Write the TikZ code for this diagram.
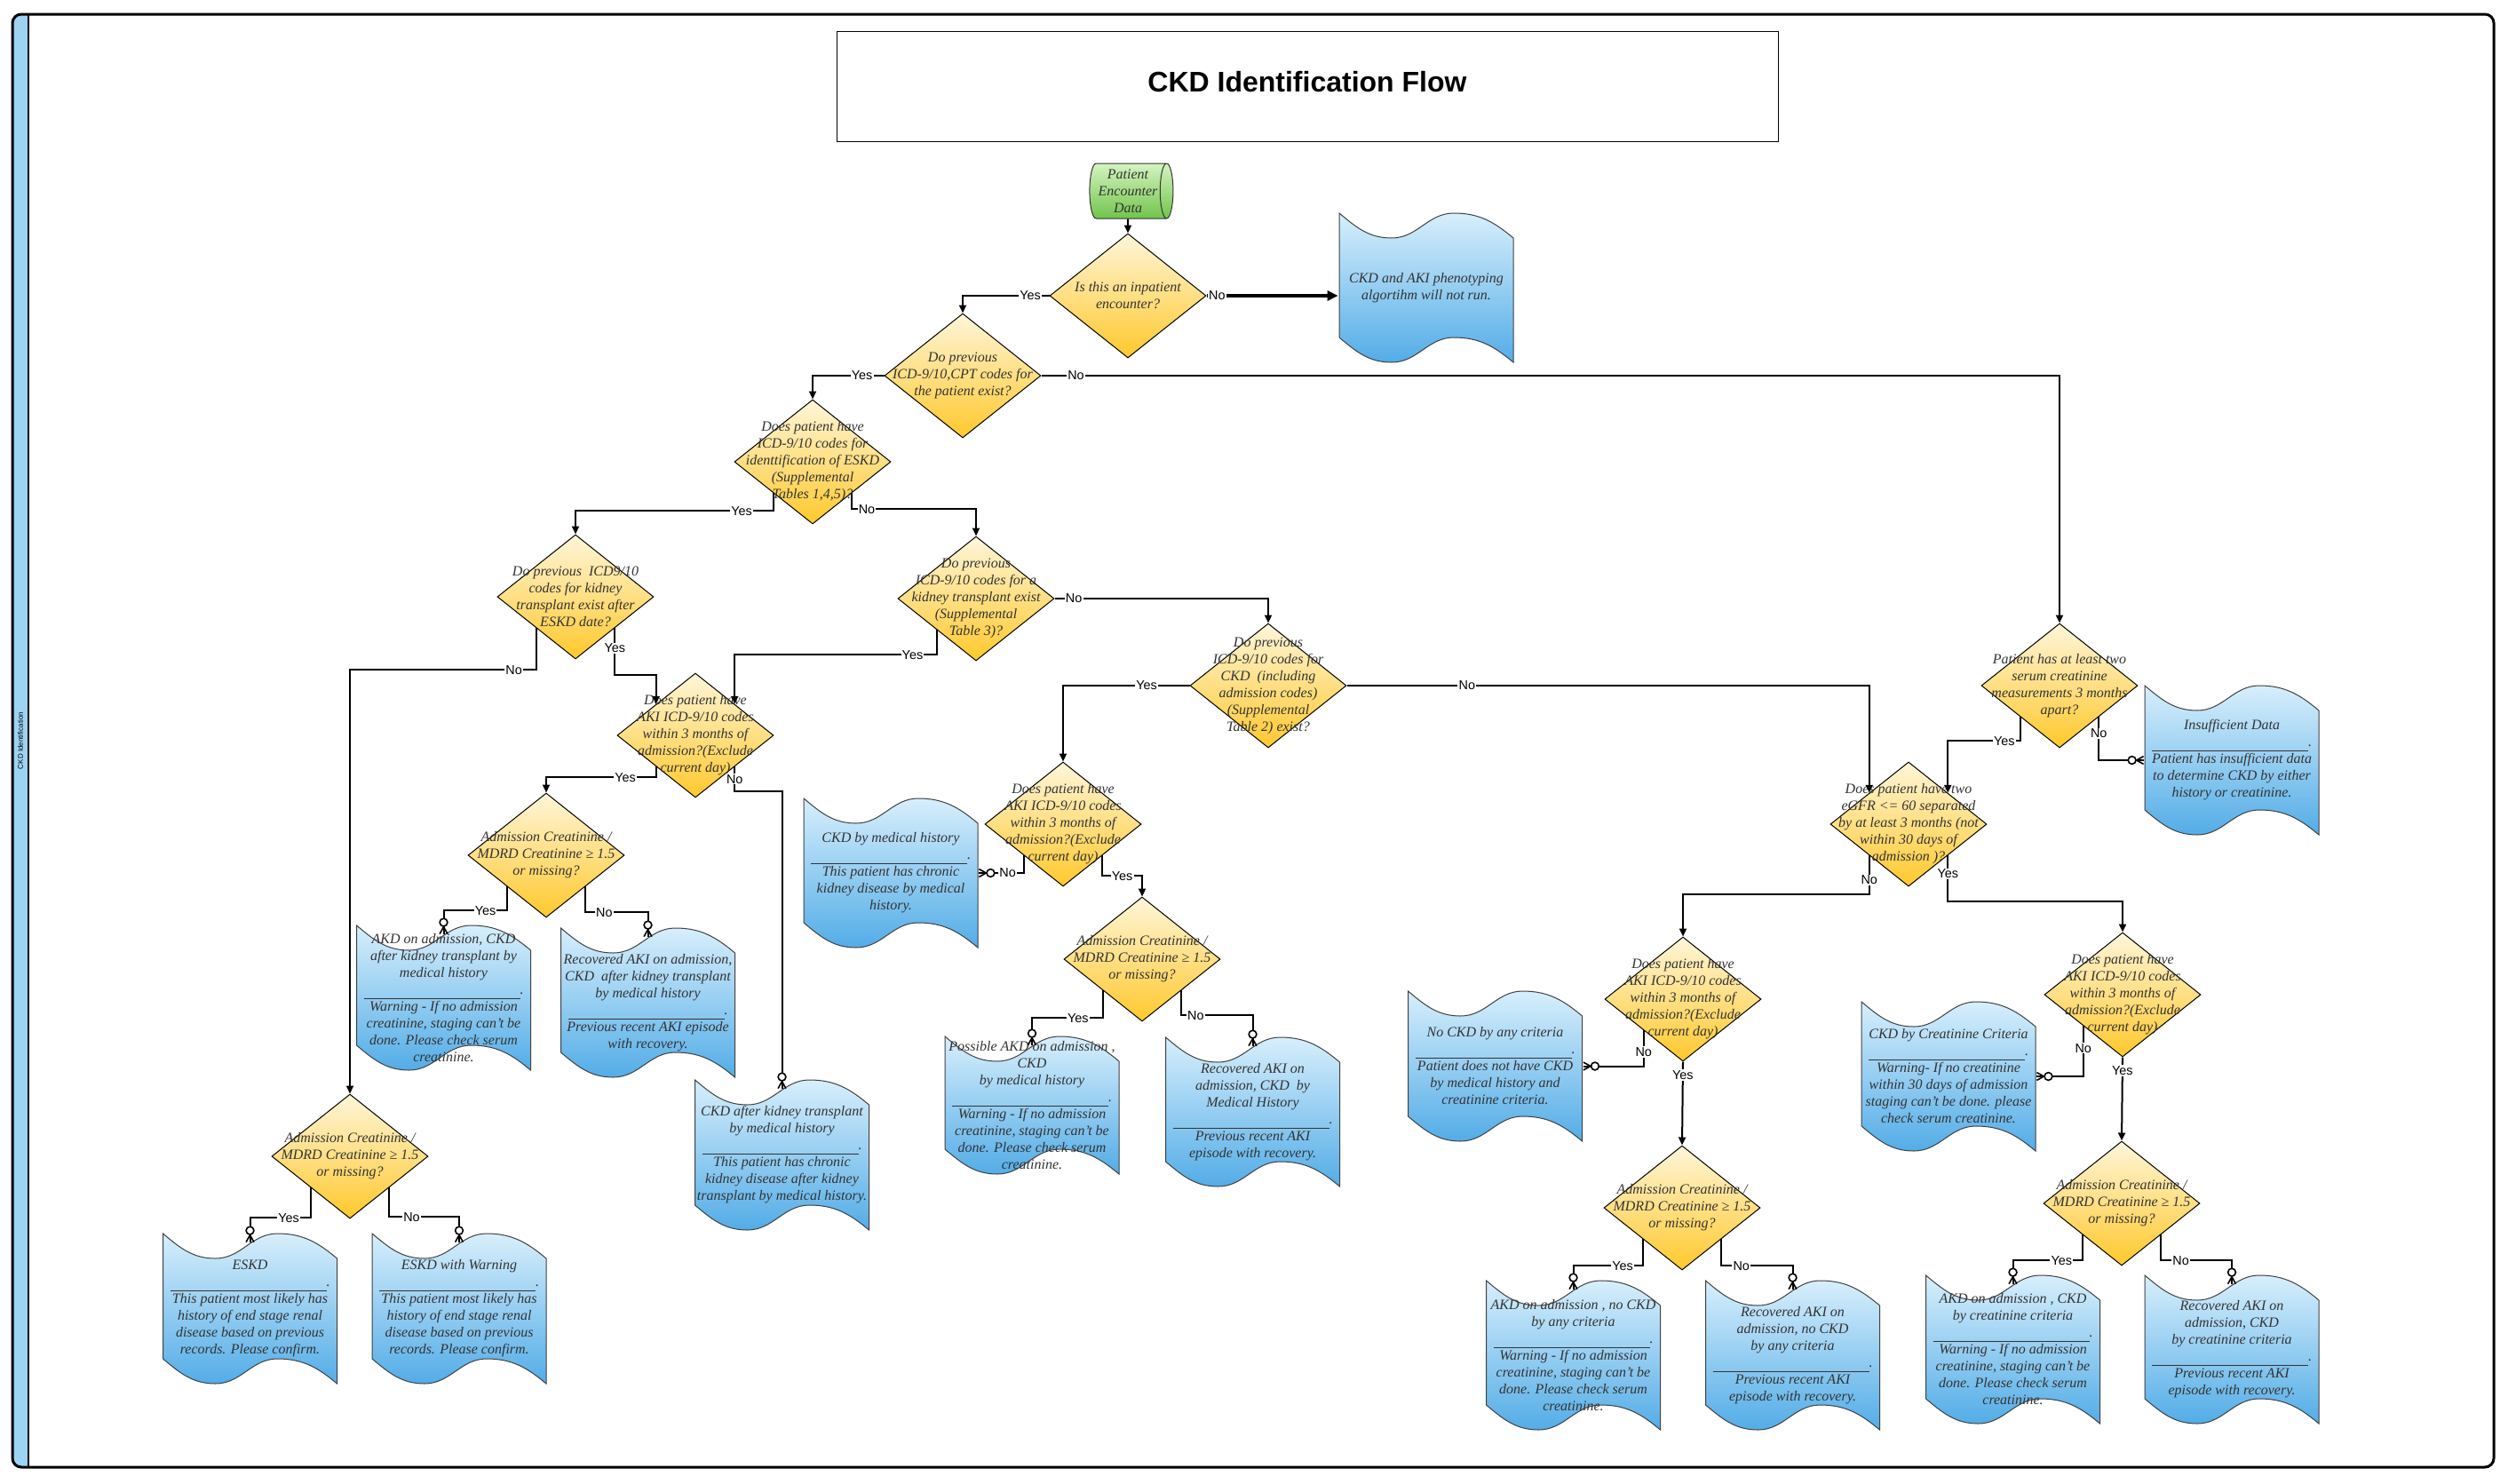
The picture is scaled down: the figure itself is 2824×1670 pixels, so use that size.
\documentclass[tikz,border=0pt]{standalone}
\usepackage{fontspec}
\setmainfont{Liberation Serif}
\setsansfont{Liberation Sans}
\usetikzlibrary{shapes.geometric,arrows.meta,decorations.markings}
\definecolor{dtop}{HTML}{FFF6DA}
\definecolor{dbot}{HTML}{FFC82C}
\definecolor{ttop}{HTML}{D8EFFC}
\definecolor{tbot}{HTML}{52ACE7}
\definecolor{gtop}{HTML}{D4F3C0}
\definecolor{gbot}{HTML}{72C44C}
\definecolor{txt}{HTML}{333333}
\definecolor{stripc}{HTML}{9DD4F4}
\newcommand\tsep{\rule[-2.5pt]{88pt}{0.4pt}.}
\newcommand\txtaki{Does patient have\\AKI ICD-9/10 codes\\within 3 months of\\admission?(Exclude\\current day)}
\newcommand\txtcr{Admission Creatinine /\\MDRD Creatinine ≥ 1.5\\or missing?}
\newcommand\tapewave[1]{%
  \shadedraw[draw=black!75, line width=0.5pt, top color=ttop, bottom color=tbot]
    (path picture bounding box.north west) ++(0.5pt,-0.5pt)
    to[out=-40,in=180] ++(29.5pt,-14pt) to[out=0,in=180] ++(35pt,14pt)
    to[out=0,in=140] ++(33.5pt,-14pt) -- ++(0pt,-#1pt+14pt)
    to[out=140,in=0] ++(-33.5pt,14pt) to[out=180,in=0] ++(-35pt,-14pt)
    to[out=180,in=-40] ++(-29.5pt,14pt) -- cycle;}
\tikzset{
  dia/.style={diamond, draw=black, line width=0.5pt, top color=dtop, bottom color=dbot,
    minimum width=88pt, minimum height=70pt, inner sep=0pt},
  dtxt/.style={font=\fontsize{8}{9.5}\selectfont\itshape, text=txt, align=center, inner sep=0pt},
  tape/.style={rectangle, inner sep=0pt, minimum width=99pt, minimum height=#1pt+1pt,
    path picture={\tapewave{#1}}},
  lab/.style={font=\sffamily\fontsize{7.2}{8}\selectfont, fill=white, inner sep=0.6pt, text=black},
  arr/.style={line width=1pt, -{Triangle[length=4.5pt,width=4pt]}},
  thk/.style={line width=1.8pt, -{Triangle[length=6pt,width=5.5pt]}},
  carr/.style={line width=1pt, postaction={decorate, decoration={markings,
     mark=at position 1 with {
       \draw[line width=0.8pt] (-4pt,0pt) -- (0pt,2.2pt) (-4pt,0pt) -- (0pt,-2.2pt);
       \draw[line width=0.8pt, fill=white] (-6.5pt,0pt) circle (2.2pt);}}}},
}
\begin{document}
\begin{tikzpicture}[x=0.5pt,y=-0.5pt]
\useasboundingbox (0,0) rectangle (2824,1670);
% swimlane frame
\begin{scope}
  \clip[rounded corners=5pt] (14,16) rectangle (2808,1652);
  \fill[stripc] (14,16) rectangle (32,1652);
\end{scope}
\draw[line width=0.9pt] (32,16) -- (32,1652);
\node[draw, line width=1.5pt, rounded corners=5pt, minimum width=1397pt, minimum height=818pt, inner sep=0pt] (frame) at (1411,834) {};
\node[rotate=90, font=\sffamily\fontsize{4}{5}\selectfont, inner sep=0pt] (striplab) at (23,834) {CKD Identification};
\node[draw, line width=0.5pt, minimum width=530pt, minimum height=62pt,
  label={[font=\sffamily\bfseries\fontsize{16}{18}\selectfont, yshift=2.5pt]center:CKD Identification Flow}] (title) at (1472,97) {};

% start
\node[cylinder, draw=black!80, line width=0.5pt, aspect=0.3, top color=gtop, bottom color=gbot,
  minimum width=31pt, minimum height=47pt, inner sep=0pt, font=\fontsize{8}{9.5}\selectfont\itshape,
  text=txt, align=center] (P) at (1270,215) {Patient\\Encounter\\Data};

% decisions
\node[dia, label={[dtxt]center:{Is this an inpatient\\encounter?}}] (d1) at (1270,333) {};
\node[dia, label={[dtxt]center:{Do previous\\ICD-9/10,CPT codes for\\the patient exist?}}] (d2) at (1084,423) {};
\node[dia, label={[dtxt]center:{Does patient have\\ICD-9/10 codes for\\identtification of ESKD\\(Supplemental\\Tables 1,4,5)?}}] (d3) at (915,520) {};
\node[dia, label={[dtxt]center:{Do previous\ \ ICD9/10\\codes for kidney\\transplant exist after\\ESKD date?}}] (d4) at (648,672) {};
\node[dia, label={[dtxt]center:{Do previous\\ICD-9/10 codes for a\\kidney transplant exist\\(Supplemental\\Table 3)?}}] (d5) at (1099,674) {};
\node[dia, label={[dtxt]center:{Do previous\\ICD-9/10 codes for\\CKD\ \ (including\\admission codes)\\(Supplemental\\Table 2) exist?}}] (d6) at (1428,772) {};
\node[dia, label={[dtxt]center:{\txtaki}}] (d7) at (783,828) {};
\node[dia, label={[dtxt]center:{\txtcr}}] (d8) at (615,963) {};
\node[dia, label={[dtxt]center:{\txtaki}}] (d9) at (1197,928) {};
\node[dia, label={[dtxt]center:{\txtcr}}] (d10) at (1286,1080) {};
\node[dia, label={[dtxt]center:{\txtcr}}] (d11) at (394,1302) {};
\node[dia, label={[dtxt]center:{Patient has at least two\\serum creatinine\\measurements 3 months\\apart?}}] (d12) at (2319,772) {};
\node[dia, label={[dtxt]center:{Does patient have two\\eGFR <= 60 separated\\by at least 3 months (not\\within 30 days of\\admission )?}}] (d13) at (2149,928) {};
\node[dia, label={[dtxt]center:{\txtaki}}] (d14) at (1895,1125) {};
\node[dia, label={[dtxt]center:{\txtaki}}] (d15) at (2390,1120) {};
\node[dia, label={[dtxt]center:{\txtcr}}] (d16) at (1894,1360) {};
\node[dia, label={[dtxt]center:{\txtcr}}] (d17) at (2389,1355) {};

% outcomes
\node[tape=84, label={[dtxt]center:{CKD and AKI phenotyping\\algortihm will not run.}}] (t0) at (1606,324) {};
\node[tape=81.5, label={[dtxt]center:{AKD on admission, CKD\\after kidney transplant by\\medical history\\\tsep\\Warning - If no admission\\creatinine, staging can't be\\done. Please check serum\\creatinine.}}] (t1) at (499.5,1123.5) {};
\node[tape=84, label={[dtxt]center:{Recovered AKI on admission,\\CKD\ \ after kidney transplant\\by medical history\\\tsep\\Previous recent AKI episode\\with recovery.}}] (t2) at (729.5,1129) {};
\node[tape=84, label={[dtxt]center:{CKD by medical history\\\tsep\\This patient has chronic\\kidney disease by medical\\history.}}] (t3) at (1003,983) {};
\node[tape=84.5, label={[dtxt]center:{CKD after kidney transplant\\by medical history\\\tsep\\This patient has chronic\\kidney disease after kidney\\transplant by medical history.}}] (t4) at (880.5,1300.5) {};
\node[tape=84.5, label={[dtxt]center:{ESKD\\\tsep\\This patient most likely has\\history of end stage renal\\disease based on previous\\records. Please confirm.}}] (t5) at (281.5,1473.5) {};
\node[tape=84.5, label={[dtxt]center:{ESKD with Warning\\\tsep\\This patient most likely has\\history of end stage renal\\disease based on previous\\records. Please confirm.}}] (t6) at (517,1473.5) {};
\node[tape=77.5, label={[dtxt]center:{Possible AKD on admission ,\\CKD\\by medical history\\\tsep\\Warning - If no admission\\creatinine, staging can't be\\done. Please check serum\\creatinine.}}] (t7) at (1162,1244.5) {};
\node[tape=84, label={[dtxt]center:{Recovered AKI on\\admission, CKD\ \ by\\Medical History\\\tsep\\Previous recent AKI\\episode with recovery.}}] (t8) at (1410.5,1252) {};
\node[tape=84, label={[dtxt]center:{Insufficient Data\\\tsep\\Patient has insufficient data\\to determine CKD by either\\history or creatinine.}}] (t9) at (2513,856) {};
\node[tape=84.5, label={[dtxt]center:{No CKD by any criteria\\\tsep\\Patient does not have CKD\\by medical history and\\creatinine criteria.}}] (t10) at (1683.5,1200.5) {};
\node[tape=84, label={[dtxt]center:{CKD by Creatinine Criteria\\\tsep\\Warning- If no creatinine\\within 30 days of admission\\staging can't be done. please\\check serum creatinine.}}] (t11) at (2194,1212) {};
\node[tape=84, label={[dtxt]center:{AKD on admission , no CKD\\by any criteria\\\tsep\\Warning - If no admission\\creatinine, staging can't be\\done. Please check serum\\creatinine.}}] (t12) at (1771.5,1526) {};
\node[tape=84, label={[dtxt]center:{Recovered AKI on\\admission, no CKD\\by any criteria\\\tsep\\Previous recent AKI\\episode with recovery.}}] (t13) at (2018.5,1526) {};
\node[tape=83.5, label={[dtxt]center:{AKD on admission , CKD\\by creatinine criteria\\\tsep\\Warning - If no admission\\creatinine, staging can't be\\done. Please check serum\\creatinine.}}] (t14) at (2266.5,1519.5) {};
\node[tape=83.5, label={[dtxt]center:{Recovered AKI on\\admission, CKD\\by creatinine criteria\\\tsep\\Previous recent AKI\\episode with recovery.}}] (t15) at (2513,1519.5) {};

% connectors
\draw[arr] (P.south) -- (d1.north);
\draw[arr] (d1.west) -| node[lab,pos=0.11] (l1) {Yes} (d2.north);
\draw[thk] (d1.east) -- node[lab,pos=0.08] (l2) {No} (d1.east -| t0.west);
\draw[arr] (d2.west) -| node[lab,pos=0.155] (l3) {Yes} (d3.north);
\draw[arr] (d2.east) -| node[lab,pos=0.017] (l4) {No} (d12.north);
\draw[arr] (d3.south west) -- ++(0,20) -| node[lab,pos=0.08] (l5) {Yes} (d4.north);
\draw[arr] (d3.south east) -- ++(0,18) -| node[lab,pos=0.06] (l6) {No} (d5.north);
\draw[arr] (d4.south east) -- node[lab,pos=0.43] (l7) {Yes} ++(0,53) -| (d7.north west);
\draw[arr] (d4.south west) -- ++(0,47) -| node[lab,pos=0.06] (l8) {No} (d11.north);
\draw[arr] (d5.south west) -- ++(0,28) -| node[lab,pos=0.06] (l9) {Yes} (d7.north east);
\draw[arr] (d5.east) -| node[lab,pos=0.045] (l10) {No} (d6.north);
\draw[arr] (d6.west) -| node[lab,pos=0.17] (l11) {Yes} (d9.north);
\draw[arr] (d6.east) -| node[lab,pos=0.115] (l12) {No} (d13.north west);
\draw[arr] (d7.south west) -- ++(0,12) -| node[lab,pos=0.14] (l13) {Yes} (d8.north);
\draw[carr] (d7.south east) -- node[lab,pos=0.5] (l14) {No} ++(0,28) -| ([yshift=-5.5pt]t4.north);
\draw[carr] (d8.south west) -- ++(0,27) -| node[lab,pos=0.17] (l15) {Yes} ([yshift=-5.5pt]t1.north);
\draw[carr] (d8.south east) -- ++(0,29) -| node[lab,pos=0.15] (l16) {No} ([yshift=-5.5pt]t2.north);
\draw[carr] (d9.south west) |- node[lab,pos=0.68] (l17) {No} (t3.east);
\draw[arr] (d9.south east) -- ++(0,23) -| node[lab,pos=0.25] (l18) {Yes} (d10.north);
\draw[carr] (d10.south west) -- ++(0,31) -| node[lab,pos=0.175] (l19) {Yes} ([yshift=-5.5pt]t7.north);
\draw[carr] (d10.south east) -- ++(0,28) -| node[lab,pos=0.1] (l20) {No} ([yshift=-5.5pt]t8.north);
\draw[carr] (d11.south west) -- ++(0,34) -| node[lab,pos=0.18] (l21) {Yes} ([yshift=-5.5pt]t5.north);
\draw[carr] (d11.south east) -- ++(0,33) -| node[lab,pos=0.16] (l22) {No} ([yshift=-5.5pt]t6.north);
\draw[arr] (d12.south west) -- ++(0,27) -| node[lab,pos=0.11] (l23) {Yes} (d13.north east);
\draw[carr] (d12.south east) |- node[lab,pos=0.19] (l24) {No} (t9.west);
\draw[arr] (d13.south west) -- node[lab,pos=0.63] (l25) {No} ++(0,44) -| (d14.north);
\draw[arr] (d13.south east) -- node[lab,pos=0.4] (l26) {Yes} ++(0,52) -| (d15.north);
\draw[carr] (d14.south west) |- node[lab,pos=0.3] (l27) {No} (t10.east);
\draw[arr] (d14.south) -- node[lab,pos=0.16] (l28) {Yes} (d16.north);
\draw[carr] (d15.south west) |- node[lab,pos=0.22] (l29) {No} (t11.east);
\draw[arr] (d15.south) -- node[lab,pos=0.16] (l30) {Yes} (d17.north);
\draw[carr] (d16.south west) -- ++(0,30) -| node[lab,pos=0.145] (l31) {Yes} ([yshift=-5.5pt]t12.north);
\draw[carr] (d16.south east) -- ++(0,30) -| node[lab,pos=0.14] (l32) {No} ([yshift=-5.5pt]t13.north);
\draw[carr] (d17.south west) -- ++(0,29) -| node[lab,pos=0.15] (l33) {Yes} ([yshift=-5.5pt]t14.north);
\draw[carr] (d17.south east) -- ++(0,29) -| node[lab,pos=0.14] (l34) {No} ([yshift=-5.5pt]t15.north);
\end{tikzpicture}
\end{document}
